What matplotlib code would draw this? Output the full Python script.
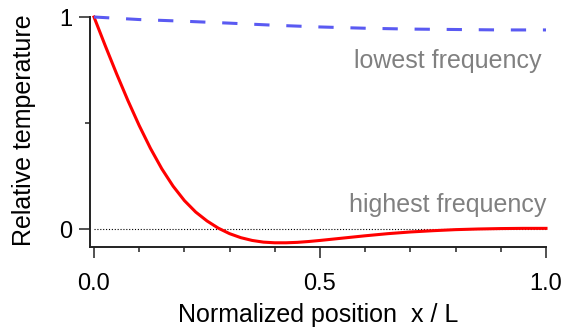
import numpy as np
import matplotlib
matplotlib.use('Agg')
import matplotlib.pyplot as plt
from matplotlib.ticker import FixedLocator

plt.rcParams['font.family']=['Liberation Sans','DejaVu Sans']

# values
x_high=[0.0,0.025,0.05,0.075,0.1,0.125,0.15,0.175,0.2,0.225,0.25,0.275,0.3,0.325,0.35,0.375,0.4,0.425,0.45,0.475,0.5,0.55,0.6,0.65,0.7,0.75,0.8,0.85,0.9,0.95,1.0]
y_high=[1.0,0.864,0.732,0.606,0.488,0.380,0.284,0.202,0.134,0.080,0.038,0.004,-0.022,-0.041,-0.054,-0.062,-0.065,-0.065,-0.063,-0.059,-0.054,-0.043,-0.032,-0.022,-0.014,-0.008,-0.003,0.0,0.002,0.003,0.003]

x_low=[0.0,0.1,0.2,0.3,0.4,0.5,0.6,0.7,0.8,0.9,1.0]
y_low=[1.0,0.988,0.980,0.971,0.961,0.953,0.947,0.943,0.941,0.939,0.939]

fig=plt.figure(figsize=(5.64,3.28),dpi=100)
ax=fig.add_axes([90/564,81/328,456/564,230/328])

ax.plot([0,1],[0,0],color='black',lw=0.8,ls=(0,(1,1.6)),clip_on=False)
ax.plot(x_high,y_high,color='#ff0000',lw=2.2,clip_on=False)
ax.plot(x_low,y_low,color='#5a5af2',lw=2.2,ls=(0,(5,5.5)),clip_on=False)

ax.text(0.989,0.758,'lowest frequency',color='#808080',fontsize=18,ha='right',va='baseline')
ax.text(1.001,0.082,'highest frequency',color='#808080',fontsize=18,ha='right',va='baseline')

ax.set_xlim(-4/452,1.0)
ax.set_ylim(-18/212,1.0)

ax.spines['top'].set_visible(False)
ax.spines['right'].set_visible(False)
for s in ['left','bottom']:
    ax.spines[s].set_linewidth(1.4)
    ax.spines[s].set_color('#222222')

ax.xaxis.set_major_locator(FixedLocator([0.0,0.5,1.0]))
ax.xaxis.set_minor_locator(FixedLocator([0.1,0.2,0.3,0.4,0.6,0.7,0.8,0.9]))
ax.set_xticklabels(['0.0','0.5','1.0'])
ax.yaxis.set_major_locator(FixedLocator([0,1]))
ax.yaxis.set_minor_locator(FixedLocator([0.5]))
ax.set_yticklabels(['0','1'])

ax.tick_params(which='major',length=8,width=1.1,color='#222222',labelsize=17)
ax.tick_params(which='minor',length=3.8,width=1.1,color='#222222')
ax.tick_params(axis='x',which='major',pad=11)
ax.tick_params(axis='y',which='major',pad=5)

ax.set_xlabel('Normalized position  x / L',fontsize=18,va='baseline')
ax.set_ylabel('Relative temperature',fontsize=18,va='baseline')
ax.xaxis.set_label_coords(0.5,(247-322)/230)
ax.yaxis.set_label_coords((31-90)/456,0.51)

fig.savefig('out.png',dpi=100)
